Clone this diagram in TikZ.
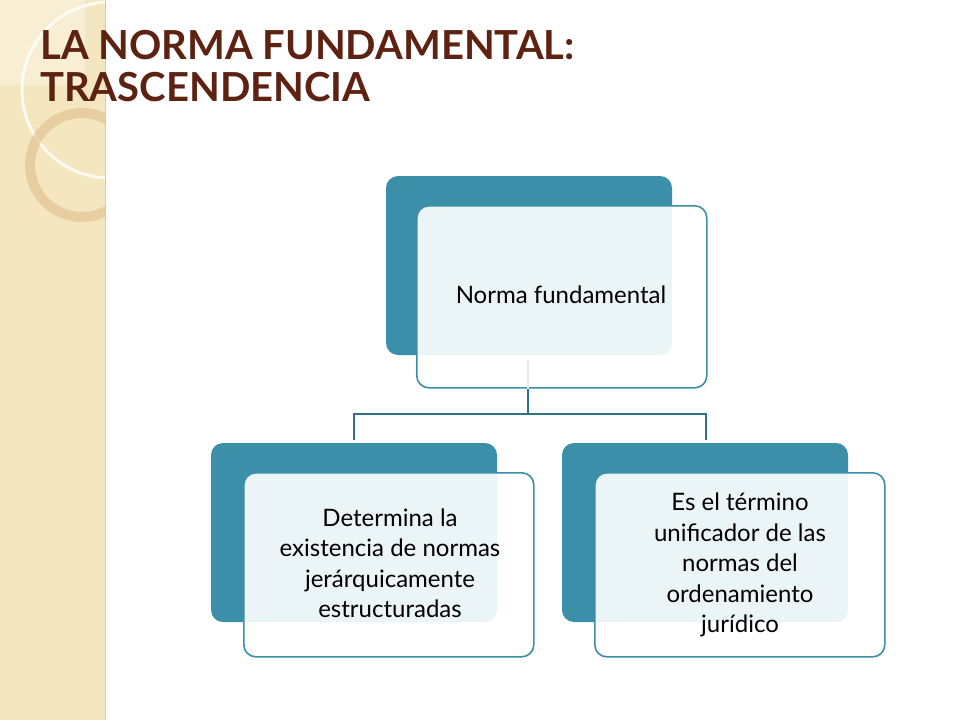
\documentclass[tikz,border=0pt]{standalone}
\usepackage{fontspec}
\setmainfont{Lato}
\definecolor{teal1}{HTML}{3B8FA8}
\definecolor{brn}{HTML}{5E2212}
\definecolor{beige}{HTML}{F4E6BE}
\begin{document}
\begin{tikzpicture}[x=1pt,y=-1pt,
 back/.style={fill=teal1,rounded corners=12},
 front/.style={fill=white,fill opacity=0.9,text opacity=1,draw=teal1,line width=1.6pt,rounded corners=12},
 lbl/.style={font=\fontsize{24}{30.5}\selectfont,align=center,text=black},
 conn/.style={draw=teal1!80!black,line width=1.6pt}]
\useasboundingbox (0,0) rectangle (960,720);
\fill[white] (0,0) rectangle (960,720);
% left strip
\begin{scope}
\clip (0,0) rectangle (105,720);
\fill[beige] (0,0) rectangle (105,720);
\fill[white,opacity=0.35] (0,0) rectangle (85,85);
\draw[white,opacity=0.8,line width=3pt] (110,90) circle (88);
\draw[brown!40!beige,opacity=0.6,line width=10pt] (82,165) circle (52);
\end{scope}
\draw[brown!30!beige,line width=1pt] (105,0) -- (105,720);
% title
\node[anchor=north west,inner sep=0pt,font=\fontsize{40}{42}\selectfont\bfseries,text=brn,align=left] (title) at (40,30) {LA NORMA FUNDAMENTAL:\\TRASCENDENCIA};
% boxes
\fill[back] (386,176) rectangle (672,355);
\node[front,minimum width=290,minimum height=182,anchor=north west] (top) at (416,205) {};
\node[lbl] (toplbl) at (561,295) {Norma fundamental};
\fill[back] (211,443) rectangle (497,622);
\node[front,minimum width=290,minimum height=184,anchor=north west] (left) at (243,472) {};
\node[lbl] (leftlbl) at (390,563) {Determina la\\existencia de normas\\jerárquicamente\\estructuradas};
\fill[back] (562,443) rectangle (848,622);
\node[front,minimum width=290,minimum height=184,anchor=north west] (right) at (594,472) {};
\node[lbl] (rightlbl) at (740,565) {Es el término\\unificador de las\\normas del\\ordenamiento\\jurídico};
% connectors
\draw[gray!15,line width=1.5pt] (528,360) -- (top.south -| 528,0);
\coordinate (j) at (528,414);
\draw[conn] (top.south -| j) -- (j);
\draw[conn] (354,440) |- (j) -| (706,440);
\end{tikzpicture}
\end{document}
